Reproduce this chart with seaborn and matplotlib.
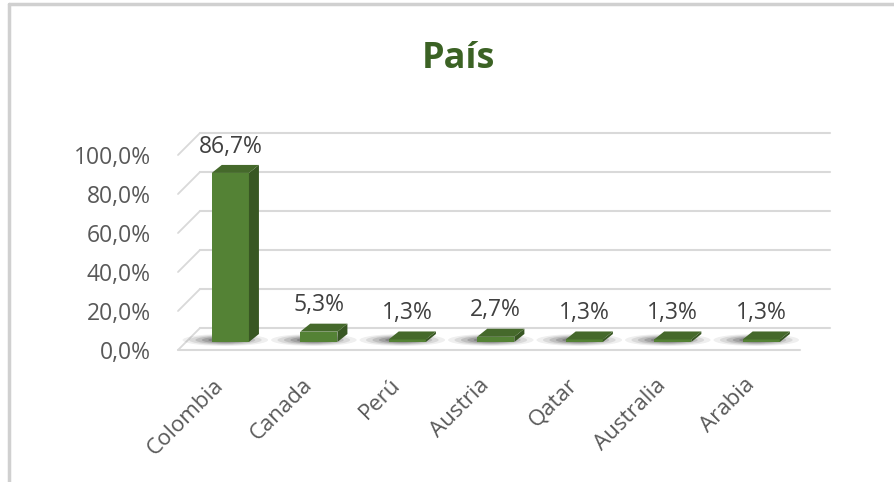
import numpy as np
import pandas as pd
import matplotlib
matplotlib.use("Agg")
import matplotlib.pyplot as plt
import matplotlib.transforms as mtrans
from matplotlib.patches import Polygon, Ellipse
from matplotlib.lines import Line2D
from matplotlib.ticker import FuncFormatter
import seaborn as sns

# ---- data ----
categories = ["Colombia", "Canada", "Perú", "Austria", "Qatar", "Australia", "Arabia"]
values = [86.7, 5.3, 1.3, 2.7, 1.3, 1.3, 1.3]
yticks = [0, 20, 40, 60, 80, 100]
title = "País"

sns.set_theme(style="white")
plt.rcParams["font.family"] = ["Open Sans", "DejaVu Sans"]

FRONT = "#548235"
SIDE = "#385723"
TOP = "#45692b"
GRID = "#d9d9d9"
TXT = "#595959"

fig = plt.figure(figsize=(8.94, 4.82), dpi=100)
fig.patch.set_facecolor("white")
ax = fig.add_axes([187 / 894, 140 / 482, 630 / 894, 195 / 482])
ax.set_facecolor("none")

df = pd.DataFrame({"pais": categories, "valor": values})
sns.barplot(data=df, x="pais", y="valor", color=FRONT, saturation=1,
            width=0.42, ax=ax, zorder=5, linewidth=0)

ax.set_xlim(-0.49, 6.63)
ax.set_ylim(0, 100)
ax.set_yticks(yticks)
ax.yaxis.set_major_formatter(FuncFormatter(lambda v, p: f"{v:.1f}%".replace(".", ",")))
for s in ax.spines.values():
    s.set_visible(False)
ax.set_xlabel("")
ax.set_ylabel("")
ax.tick_params(axis="both", length=0, labelsize=16.5, labelcolor=TXT)
ax.tick_params(axis="y", pad=26)
ax.tick_params(axis="x", pad=0, labelsize=16)

dpi_t = fig.dpi_scale_trans
front_off = mtrans.ScaledTranslation(-9 / 100, -8 / 100, dpi_t)
back_off = mtrans.ScaledTranslation(13 / 100, 14 / 100, dpi_t)

for lab in ax.get_yticklabels():
    lab.set_transform(lab.get_transform() + mtrans.ScaledTranslation(0, -8 / 100, dpi_t))

for lab in ax.get_xticklabels():
    lab.set_rotation(45)
    lab.set_ha("right")
    lab.set_va("center")
    lab.set_rotation_mode("anchor")
    lab.set_transform(lab.get_transform() + mtrans.ScaledTranslation(-10 / 100, -40 / 100, dpi_t))

fig.canvas.draw()
ident = mtrans.IdentityTransform()
yaxis_t = ax.get_yaxis_transform()

# back wall gridlines and left diagonals
for yv in yticks:
    ax.plot([0, 1], [yv, yv], transform=yaxis_t + back_off, color=GRID, lw=1.5,
            zorder=1, clip_on=False)
    p = yaxis_t.transform((0, yv))
    ax.add_line(Line2D([p[0] - 9, p[0] + 13], [p[1] - 8, p[1] + 14], transform=ident,
                       color=GRID, lw=1.3, zorder=1, clip_on=False))
# floor front line
ax.plot([0, 0.987], [0, 0], transform=yaxis_t + front_off, color=GRID, lw=1.5,
        zorder=1, clip_on=False)

# 3D faces and shadows from bar geometry
dx, dy = 10, 8
for patch, v in zip(ax.patches, values):
    x0, y0 = patch.get_x(), patch.get_y()
    w, h = patch.get_width(), patch.get_height()
    bl = ax.transData.transform((x0, y0))
    tr = ax.transData.transform((x0 + w, y0 + h))
    # soft shadow at the base
    for k, a in [(1.0, 0.07), (0.85, 0.10), (0.7, 0.14), (0.55, 0.18), (0.4, 0.22)]:
        ax.add_patch(Ellipse(((bl[0] + tr[0]) / 2 - 5, bl[1] + 2), (tr[0] - bl[0]) * 2.3 * k,
                             12 * k, transform=ident, color="#202020", alpha=a, lw=0,
                             zorder=2, clip_on=False))
    side = Polygon([(tr[0], bl[1]), (tr[0] + dx, bl[1] + dy), (tr[0] + dx, tr[1] + dy),
                    (tr[0], tr[1])], closed=True, transform=ident, color=SIDE, lw=0,
                   zorder=6, clip_on=False)
    top = Polygon([(bl[0], tr[1]), (bl[0] + dx, tr[1] + dy), (tr[0] + dx, tr[1] + dy),
                   (tr[0], tr[1])], closed=True, transform=ident, color=TOP, lw=0,
                  zorder=6, clip_on=False)
    ax.add_patch(side)
    ax.add_patch(top)
    ax.annotate(f"{v:.1f}%".replace(".", ","), (x0 + w / 2, y0 + h), xytext=(0, 19),
                textcoords="offset points", ha="center", va="center", fontsize=16.5,
                color="#404040", zorder=7)

fig.text(458 / 894, (482 - 68) / 482, title, ha="center", va="baseline",
         fontsize=26, fontweight="bold", color="#3b6224")

# image frame
fig.add_artist(Line2D([9 / 894, 9 / 894], [0, 478.5 / 482], transform=fig.transFigure,
                      color="#d0d0d0", lw=2.5))
fig.add_artist(Line2D([9 / 894, 1], [478.5 / 482, 478.5 / 482], transform=fig.transFigure,
                      color="#d0d0d0", lw=2.5))

fig.savefig("out.png", dpi=100, facecolor="white")
